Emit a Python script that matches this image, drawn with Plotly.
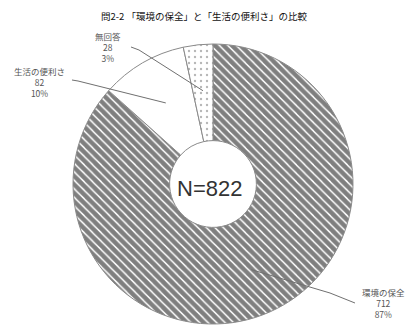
import math
import plotly.graph_objects as go

title_text = "問2-2 「環境の保全」と「生活の便利さ」の比較"
labels = ["環境の保全", "生活の便利さ", "無回答"]
values = [712, 82, 28]
total_label = "N=822"

# label anchor positions (pixels) and leader bends (pixels)
label_pos = [(383, 303), (39, 82), (108, 47)]
leader_bends = [[(330, 293), (355, 303)], [(78, 81), (72, 80)], [(139, 50), (131, 47)]]

W, H = 408, 327
CX, CY, R = 213, 184, 140
L, T = CX - R, CY - R


def to_paper(px, py):
    return (px - L) / (2 * R), (CY + R - py) / (2 * R)


total = sum(values)
font_jp = "Noto Sans CJK JP"

fig = go.Figure(go.Pie(
    labels=labels,
    values=values,
    sort=False,
    direction="clockwise",
    rotation=0,
    hole=0.31,
    textinfo="none",
    hoverinfo="label+value+percent",
    showlegend=False,
    marker=dict(
        colors=["white", "white", "white"],
        line=dict(color="#8a8a8a", width=1),
        pattern=dict(
            shape=["\\", "", "."],
            fgcolor=["#000000", "#000000", "#6e6e6e"],
            bgcolor=["white", "white", "white"],
            size=[6, 6, 6],
            solidity=[0.75, 0.1, 0.12],
            fillmode="overlay",
        ),
    ),
))

annotations = [
    dict(text=title_text, x=to_paper(204, 16)[0], y=to_paper(204, 16)[1],
         xref="paper", yref="paper", showarrow=False,
         font=dict(family=font_jp, size=9.5, color="#111111"),
         xanchor="center", yanchor="middle"),
    dict(text=total_label, x=to_paper(209, 188)[0], y=to_paper(209, 188)[1],
         xref="paper", yref="paper", showarrow=False,
         font=dict(family="Liberation Sans", size=22, color="#333333"),
         xanchor="center", yanchor="middle"),
]

shapes = []
cum = 0
for i, (lab, v) in enumerate(zip(labels, values)):
    pct = round(v / total * 100)
    ax, ay = to_paper(*label_pos[i])
    annotations.append(dict(
        text=f"{lab}<br>{v}<br>{pct}%", x=ax, y=ay, xref="paper", yref="paper",
        showarrow=False, align="center", xanchor="center", yanchor="middle",
        font=dict(family=font_jp, size=8.5, color="#555555")))
    mid = (cum + v / 2) / total * 2 * math.pi
    cum += v
    ex = CX + 0.67 * R * math.sin(mid)
    ey = CY - 0.67 * R * math.cos(mid)
    pts = [(ex, ey)] + leader_bends[i]
    path = ""
    for j, (px, py) in enumerate(pts):
        xp, yp = to_paper(px, py)
        path += ("M" if j == 0 else " L") + f" {xp:.4f},{yp:.4f}"
    shapes.append(dict(type="path", path=path, xref="paper", yref="paper",
                       line=dict(color="#707070", width=1)))

fig.update_layout(
    width=W, height=H,
    margin=dict(l=L, r=W - (CX + R), t=T, b=H - (CY + R)),
    paper_bgcolor="white", plot_bgcolor="white",
    annotations=annotations,
    shapes=shapes,
)

fig.write_html("out.html", config={"displayModeBar": False},
               post_script="document.body.style.margin='0px';")
